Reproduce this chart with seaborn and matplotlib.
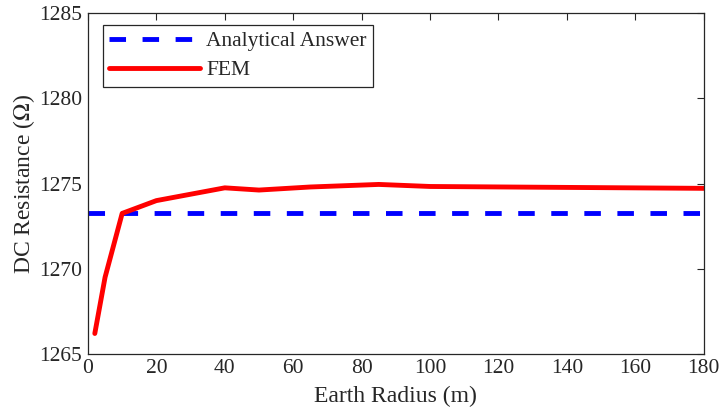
import matplotlib
matplotlib.use("Agg")
import matplotlib.pyplot as plt
import seaborn as sns
import pandas as pd
import numpy as np

radius = [2, 5, 10, 20, 40, 50, 65, 85, 100, 180]
fem = [1266.2, 1269.5, 1273.25, 1274.0, 1274.75, 1274.62, 1274.8, 1274.95, 1274.83, 1274.72]
analytical_value = 1273.25
x_range = [0, 180]

sns.set_style("white")
plt.rcParams['font.family'] = ['Liberation Serif', 'DejaVu Serif']
plt.rcParams['mathtext.fontset'] = 'stix'

fig = plt.figure(figsize=(7.21, 4.13), dpi=100)
ax = fig.add_axes([0.122, 0.143, 0.854, 0.825])

df_an = pd.DataFrame({"x": x_range, "y": [analytical_value] * len(x_range)})
df_fem = pd.DataFrame({"x": radius, "y": fem})

sns.lineplot(data=df_an, x="x", y="y", ax=ax, color=(0, 0, 1), lw=3.5,
             label="Analytical Answer")
ax.lines[-1].set_dashes((3.4, 3.4))
ax.lines[-1].set_dash_capstyle('butt')
sns.lineplot(data=df_fem, x="x", y="y", ax=ax, color=(1, 0, 0), lw=3.5,
             label="FEM")

ax.set_xlim(0, 180)
ax.set_ylim(1265, 1285)
ax.set_xticks(np.arange(0, 181, 20))
ax.set_yticks(np.arange(1265, 1286, 5))
ax.tick_params(direction='in', top=True, right=True, labelsize=15.5,
               length=5, width=0.8, colors='#262626', pad=4)
ax.set_xlabel("Earth Radius (m)", fontsize=17, color='#262626', labelpad=5)
ax.set_ylabel("DC Resistance ($\\Omega$)", fontsize=17, color='#262626', labelpad=2)
for s in ax.spines.values():
    s.set_color('#262626')
    s.set_linewidth(0.9)

leg = ax.legend(loc='upper left', fontsize=15.5, handlelength=4.2,
                bbox_to_anchor=(0.0, 1.01),
                frameon=True, fancybox=False, borderaxespad=0.7,
                handletextpad=0.3, borderpad=0.3, labelspacing=0.4)
leg.get_frame().set_edgecolor('#262626')
leg.get_frame().set_linewidth(0.9)
leg.get_frame().set_alpha(1)

fig.savefig("out.png", dpi=100)
